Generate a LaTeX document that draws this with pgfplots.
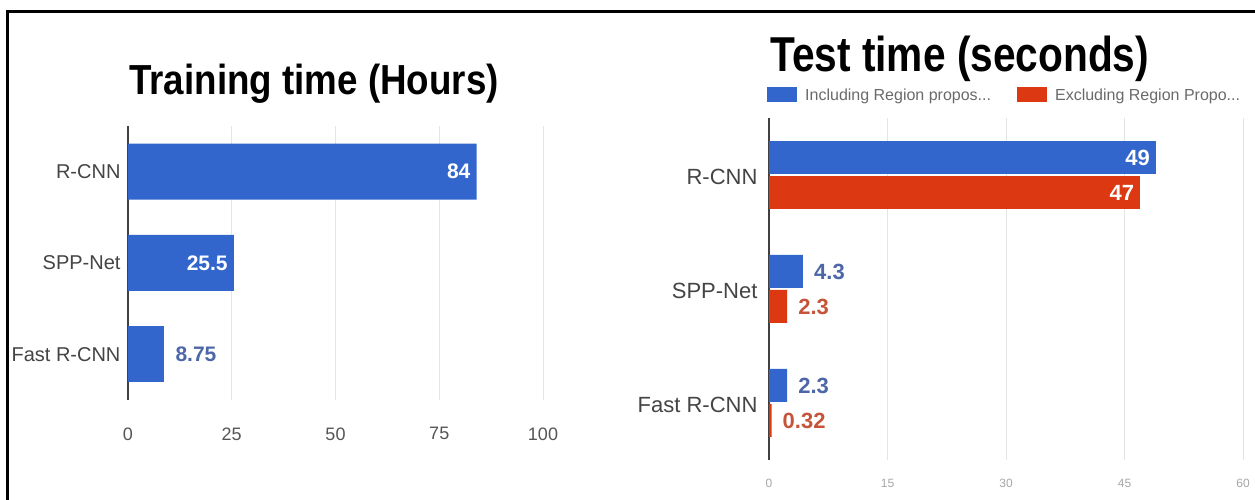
\documentclass[border=0pt]{standalone}
\usepackage{pgfplots}
\pgfplotsset{compat=1.18}
\usepackage{fontspec}
\setmainfont{Liberation Sans}
\definecolor{gblue}{HTML}{3366CC}
\definecolor{gred}{HTML}{DC3912}
\definecolor{bluelab}{HTML}{4C66A8}
\definecolor{redlab}{HTML}{C4553A}
\definecolor{catgray}{HTML}{444444}
\definecolor{tickgray}{HTML}{555555}
\definecolor{gridgray}{HTML}{E4E4E4}
\definecolor{leggray}{HTML}{6A6A6A}

\pgfplotstableread{
y x lab
2 84 84
1 25.5 25.5
}\traininside
\pgfplotstableread{
y x lab
0 8.75 8.75
}\trainoutside
\pgfplotstableread{
y x lab
2 49 49
}\testincin
\pgfplotstableread{
y x lab
1 4.3 4.3
0 2.3 2.3
}\testincout
\pgfplotstableread{
y x lab
2 47 47
}\testexcin
\pgfplotstableread{
y x lab
1 2.3 2.3
0 0.32 0.32
}\testexcout

\pgfplotsset{
  inlab/.style={nodes near coords, point meta=explicit symbolic,
    nodes near coords align={anchor=east},
    every node near coord/.append style={inner sep=2pt, xshift=-4pt, text=white, font=\bfseries\fontsize{#1}{#1}\selectfont}},
  outlab/.style 2 args={nodes near coords, point meta=explicit symbolic,
    nodes near coords align={anchor=west},
    every node near coord/.append style={inner sep=2pt, xshift=9pt, text=#1, font=\bfseries\fontsize{#2}{#2}\selectfont}},
  common/.style={scale only axis, xbar, axis line style={draw=none},
    major tick length=0pt, xmajorgrids,
    grid style={draw=gridgray, line width=1pt},
    extra x ticks={0},
    extra x tick style={grid=major, major grid style={draw=black!75, line width=1.2pt}},
    ymin=-0.5, ymax=2.5, ytick={0,1,2},
    yticklabels={Fast R-CNN,SPP-Net,R-CNN},
    /pgf/number format/assume math mode=true, clip=false},
}

\begin{document}
\begin{tikzpicture}[x=1pt,y=1pt]
\useasboundingbox (0,0) rectangle (1255,500);
\begin{scope}
\clip (0,0) rectangle (1255,500);
\draw[line width=3pt] (7,-10) -- (7,488) -- (1265,488);
\end{scope}

% Left chart
\begin{axis}[common,
  at={(128pt,100pt)}, anchor=south west,
  width=415pt, height=274pt,
  bar width=56pt,
  xmin=0, xmax=100, xtick={25,50,75,100},
  y tick label style={font=\fontsize{20}{24}\selectfont, text=catgray, xshift=-4pt},
  x tick label style={font=\fontsize{18}{22}\selectfont, text=tickgray},
  xticklabel shift=24pt,
]
\addplot[fill=gblue, draw=none, bar shift=0pt, inlab=21] table[x=x, y=y, meta=lab] {\traininside};
\addplot[fill=gblue, draw=none, bar shift=0pt, outlab={bluelab}{21}] table[x=x, y=y, meta=lab] {\trainoutside};
\end{axis}

% Right chart
\begin{axis}[common,
  at={(769pt,40pt)}, anchor=south west,
  width=474pt, height=342pt,
  bar width=33pt,
  xmin=0, xmax=60, xtick={15,30,45,60},
  y tick label style={font=\fontsize{22}{26}\selectfont, text=catgray, xshift=-8pt, yshift=-2pt},
  x tick label style={font=\fontsize{12}{14}\selectfont, text=gray!70},
  xticklabel shift=16pt,
  legend style={at={(0,1)}, anchor=west, yshift=23pt, xshift=-2pt,
    draw=none, fill=none, inner sep=0pt, legend columns=2,
    font=\fontsize{16}{18}\selectfont, text=leggray,
    /tikz/every odd column/.append style={column sep=6pt},
    /tikz/every even column/.append style={column sep=24pt}},
  legend image code/.code={\fill[#1, draw=none] (0pt,-7.5pt) rectangle (30pt,7.5pt);},
]
\addplot[fill=gblue, draw=none, bar shift=17.5pt, inlab=22] table[x=x, y=y, meta=lab] {\testincin};
\addlegendentry{Including Region propos...}
\addplot[fill=gred, draw=none, bar shift=-17.5pt, inlab=22] table[x=x, y=y, meta=lab] {\testexcin};
\addlegendentry{Excluding Region Propo...}
\addplot[fill=gblue, draw=none, bar shift=17.5pt, outlab={bluelab}{22}, forget plot] table[x=x, y=y, meta=lab] {\testincout};
\addplot[fill=gred, draw=none, bar shift=-17.5pt, outlab={redlab}{22}, forget plot] table[x=x, y=y, meta=lab] {\testexcout};
\end{axis}

\node[anchor=base, inner sep=0pt, font=\bfseries\fontsize{42}{48}\selectfont] at (314,405) {\scalebox{0.875}[1]{Training time (Hours)}};
\node[anchor=base west, inner sep=0pt, font=\bfseries\fontsize{49}{55}\selectfont] at (770,428) {\scalebox{0.83}[1]{Test time (seconds)}};
\end{tikzpicture}
\end{document}
